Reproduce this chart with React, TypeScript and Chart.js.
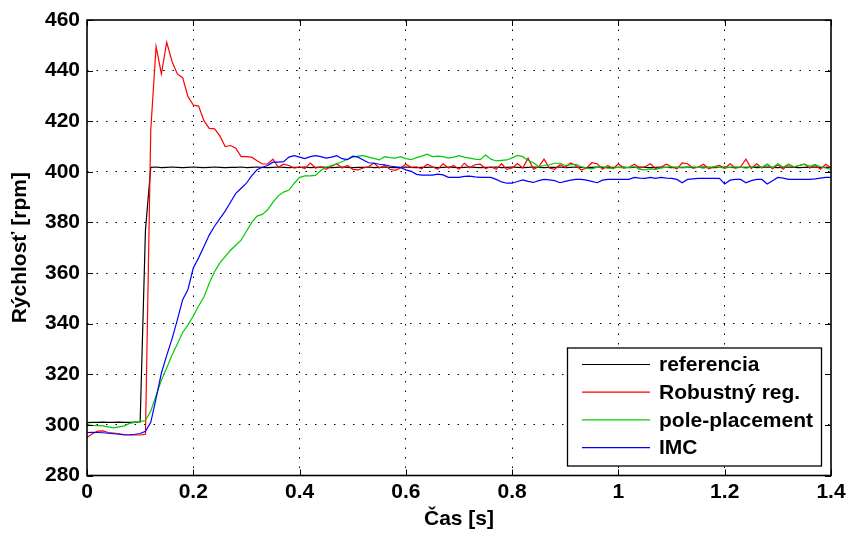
import React, { useEffect, useRef } from "react";
import { Chart, registerables } from "chart.js";

Chart.register(...registerables);

// sample times [s]
const time: number[] = Array.from({ length: 141 }, (_, i) => i / 100);

const xTicks = [0, 0.2, 0.4, 0.6, 0.8, 1, 1.2, 1.4];
const yTicks = [280, 300, 320, 340, 360, 380, 400, 420, 440, 460];

const seriesLabels = ["referencia", "Robustný reg.", "pole-placement", "IMC"];
const seriesColors = ["#000000", "#ff0000", "#00cc00", "#0000ff"];

const referencia = [
  300.9, 301.0, 301.0, 301.1, 301.0, 301.0, 301.1, 301.0, 301.0, 301.1, 301.2,
  377.0,
  401.8, 401.9, 401.7, 401.8, 401.9, 401.8, 401.7, 401.8, 401.9, 401.8,
  401.7, 401.8, 401.9, 401.8, 401.7, 401.8, 401.8, 401.9, 401.7, 401.8,
  401.9, 401.8, 401.7, 401.8, 401.9, 401.8, 401.7, 401.8, 401.8, 401.9,
  401.7, 401.8, 401.9, 401.8, 401.7, 401.8, 401.9, 401.8, 401.7, 401.8,
  401.8, 401.9, 401.7, 401.8, 401.9, 401.8, 401.7, 401.8, 401.9, 401.8,
  401.7, 401.8, 401.8, 401.9, 401.7, 401.8, 401.9, 401.8, 401.7, 401.8,
  401.9, 401.8, 401.7, 401.8, 401.8, 401.9, 401.7, 401.8, 401.9, 401.8,
  401.7, 401.8, 401.9, 401.8, 401.7, 401.8, 401.8, 401.9, 401.7, 401.8,
  401.9, 401.8, 401.7, 401.8, 401.9, 401.8, 401.7, 401.8, 401.8, 401.9,
  401.7, 401.8, 401.9, 401.8, 401.7, 401.8, 401.9, 401.8, 401.7, 401.8,
  401.8, 401.9, 401.7, 401.8, 401.9, 401.8, 401.7, 401.8, 401.9, 401.8,
  401.7, 401.8, 401.8, 401.9, 401.7, 401.8, 401.9, 401.8, 401.7, 401.8,
  401.9, 401.8, 401.7, 401.8, 401.8, 401.9, 401.7, 401.8, 401.9,
];

const robustny = [
  295.0, 296.5, 297.5, 297.6, 297.0, 296.8, 296.5, 296.2, 296.0, 296.0, 296.0, 296.3,
  416.5, 449.5, 438.7, 451.2, 443.6, 438.7, 437.2, 429.7, 426.4, 426.0,
  420.2, 417.2, 417.0, 414.2, 410.0, 410.4, 409.3, 406.0, 406.0, 405.8,
  404.4, 403.1, 403.1, 405.0, 401.8, 403.0,
  402.5, 401.5, 402.0, 401.3, 403.5, 401.5, 402.0, 401.0, 402.2, 403.2,
  401.5, 402.5, 401.0, 400.8, 401.5, 402.0, 403.5, 401.5, 402.5, 401.0,
  400.6, 401.5, 403.0, 401.8, 402.0, 401.2, 403.0, 402.0, 401.0, 403.2,
  401.5, 402.5, 401.0, 403.4, 401.6, 402.8, 403.0, 401.3, 402.0, 401.0,
  403.2, 401.0, 401.5, 403.3, 401.5, 405.4, 401.0, 402.0, 405.0, 401.5,
  401.0, 402.8, 401.8, 403.5, 402.5, 400.7, 401.5, 403.6, 403.2, 401.0,
  402.5, 401.2, 403.2, 401.5, 401.8, 403.0, 401.5, 402.0, 403.2, 401.3,
  401.8, 403.0, 402.0, 401.2, 403.5, 403.2, 401.5, 401.8, 403.0, 401.2,
  402.0, 402.5, 401.3, 403.2, 401.5, 402.0, 405.0, 401.3, 403.2, 401.5,
  403.0, 401.2, 402.8, 401.0, 403.0, 401.8, 402.5, 403.0, 401.5, 402.8,
  401.0, 403.0, 401.5,
];

const polePlacement = [
  300.0, 299.8, 299.7, 299.6, 299.2, 298.8, 299.2, 299.6, 300.6, 301.0, 301.3, 301.7,
  305.5, 311.5, 317.7, 322.5, 327.6, 332.0, 336.5, 339.5, 343.0, 347.0,
  350.5, 356.0, 360.5, 364.0, 366.5, 369.0, 371.0, 373.0, 376.5, 380.0,
  382.5, 383.2, 385.0, 388.0, 390.5, 392.0, 392.8, 395.5, 397.8, 398.4,
  398.4, 398.6,
  400.5, 401.8, 402.5, 403.2, 404.0, 405.0, 405.8, 406.2, 406.4, 405.8,
  405.3, 404.7, 406.0, 405.6, 405.4, 406.0, 405.2, 404.8, 405.6, 406.2,
  407.0, 406.0, 406.2, 406.0, 405.4, 405.8, 406.4, 405.8, 405.4, 405.0,
  404.8, 406.6, 405.0, 404.3, 404.5, 404.7, 405.5, 406.5, 406.0, 404.5,
  403.6, 402.0, 402.5, 402.8, 403.4, 403.4, 402.5, 402.8, 403.0, 402.0,
  401.5, 401.2, 401.8, 402.0, 401.5, 401.5, 401.8, 401.6, 401.8, 402.0,
  401.0, 400.8, 401.2, 401.0, 401.5, 401.8, 402.0, 401.8, 401.6, 401.8,
  402.0, 401.8, 401.5, 401.8, 402.0, 401.8, 401.5, 401.8, 402.0, 401.8,
  401.5, 401.8, 402.2, 401.8, 403.0, 401.6, 403.2, 401.8, 403.0, 402.0,
  402.5, 403.0, 402.2, 402.8, 402.0, 401.5, 401.0,
];

const imc = [
  297.0, 297.1, 297.0, 296.9, 296.7, 296.5, 296.3, 296.0, 296.1, 296.3, 296.6, 297.5, 301.0,
  310.5, 320.5, 327.5, 334.0, 341.5, 349.5, 353.5, 362.0, 366.0, 370.5,
  375.0, 378.5, 381.5, 384.5, 388.0, 391.5, 393.5, 395.5, 398.5, 400.8,
  401.8, 402.5, 403.8, 403.8, 404.0,
  405.8, 406.4, 405.8, 405.2, 406.0, 406.4, 406.0, 405.4, 405.8, 406.4,
  405.2, 404.8, 406.2, 405.8, 404.7, 403.6, 403.4, 403.0, 402.8, 402.3,
  402.0, 401.7, 400.8, 400.2, 399.0, 398.7, 398.7, 398.7, 399.1, 398.8,
  397.8, 397.8, 397.8, 398.2, 398.3, 398.0, 397.8, 397.8, 397.8, 397.0,
  396.0, 395.5, 395.5, 396.2, 396.8, 396.2, 395.8, 396.5, 397.0, 396.8,
  396.5, 395.7, 396.2, 396.7, 397.0, 397.0, 396.7, 396.2, 395.7, 396.7,
  397.0, 397.0, 397.0, 397.0, 397.0, 397.8, 397.5, 397.4, 397.8, 397.4,
  397.8, 397.5, 397.4, 397.0, 395.7, 397.0, 397.2, 397.4, 397.4, 397.4,
  397.4, 397.4, 395.2, 396.7, 397.0, 397.0, 395.7, 396.5, 397.0, 397.0,
  395.2, 396.5, 397.8, 397.5, 397.0, 397.0, 397.0, 397.0, 397.0, 397.2,
  397.5, 397.8, 397.8,
];

const allSeries = [referencia, robustny, polePlacement, imc];

const FONT = "'Liberation Sans', Arial, Helvetica, sans-serif";
const FS = 21;

const framePlugin = {
  id: "matlabFrame",
  afterDraw(chart: any) {
    const { ctx, chartArea, scales } = chart;
    const { left, right, top, bottom } = chartArea;
    ctx.save();
    ctx.strokeStyle = "#000";
    ctx.lineWidth = 1;
    const tl = 6;
    ctx.beginPath();
    scales.x.ticks.forEach((t: any) => {
      const px = Math.round(scales.x.getPixelForValue(t.value)) + 0.5;
      ctx.moveTo(px, bottom);
      ctx.lineTo(px, bottom - tl);
      ctx.moveTo(px, top);
      ctx.lineTo(px, top + tl);
    });
    scales.y.ticks.forEach((t: any) => {
      const py = Math.round(scales.y.getPixelForValue(t.value)) + 0.5;
      ctx.moveTo(left, py);
      ctx.lineTo(left + tl, py);
      ctx.moveTo(right, py);
      ctx.lineTo(right - tl, py);
    });
    ctx.stroke();
    ctx.lineWidth = 1.6;
    ctx.strokeRect(left, top, right - left, bottom - top);

    // legend inside plot area (bottom-right)
    const ds = chart.data.datasets;
    const bw = 254;
    const bh = 118;
    const bx = right - 10 - bw;
    const by = bottom - 10 - bh;
    ctx.fillStyle = "#fff";
    ctx.fillRect(bx, by, bw, bh);
    ctx.lineWidth = 1.3;
    ctx.strokeStyle = "#000";
    ctx.strokeRect(bx + 0.5, by + 0.5, bw, bh);
    ctx.font = `bold ${FS}px ${FONT}`;
    ctx.textBaseline = "middle";
    ctx.textAlign = "left";
    ds.forEach((d: any, i: number) => {
      const yc = by + 17 + i * 27.7;
      ctx.strokeStyle = d.borderColor;
      ctx.lineWidth = 1.2;
      ctx.beginPath();
      ctx.moveTo(bx + 15, yc);
      ctx.lineTo(bx + 83, yc);
      ctx.stroke();
      ctx.fillStyle = "#000";
      ctx.fillText(d.label, bx + 92, yc + 1);
    });
    ctx.restore();
  },
};

export default function App() {
  const canvasRef = useRef<HTMLCanvasElement | null>(null);

  useEffect(() => {
    if (!canvasRef.current) return;
    const datasets = allSeries.map((s, i) => ({
      label: seriesLabels[i],
      data: s.map((v, j) => ({ x: time[j], y: v })),
      borderColor: seriesColors[i],
      backgroundColor: seriesColors[i],
      borderWidth: 1.2,
      pointRadius: 0,
      tension: 0,
      fill: false,
      order: 3 - i,
    }));
    const chart = new Chart(canvasRef.current, {
      type: "line",
      data: { datasets },
      options: {
        animation: false,
        responsive: true,
        maintainAspectRatio: false,
        layout: { padding: { top: 20, right: 20, left: 0, bottom: 0 } },
        plugins: {
          legend: { display: false },
          tooltip: { enabled: false },
        },
        scales: {
          x: {
            type: "linear",
            min: 0,
            max: 1.4,
            afterBuildTicks: (scale: any) => {
              scale.ticks = xTicks.map((v) => ({ value: v }));
            },
            afterFit: (scale: any) => {
              scale.height = 60.5;
            },
            ticks: {
              color: "#000",
              font: { family: FONT, size: FS, weight: "bold" },
              padding: 4,
              maxRotation: 0,
              callback: (v: any) => String(Math.round(Number(v) * 10) / 10),
            },
            grid: {
              drawTicks: false,
              color: (c: any) =>
                c.tick && (c.tick.value === 0 || c.tick.value === 1.4) ? "rgba(0,0,0,0)" : "#000",
              lineWidth: 1,
            },
            border: { display: false, dash: [1.5, 8] },
            title: {
              display: true,
              text: "Čas [s]",
              color: "#000",
              font: { family: FONT, size: FS, weight: "bold" },
              padding: 4,
            },
          },
          y: {
            min: 280,
            max: 460,
            afterBuildTicks: (scale: any) => {
              scale.ticks = yTicks.map((v) => ({ value: v }));
            },
            afterFit: (scale: any) => {
              scale.width = 87;
            },
            ticks: {
              color: "#000",
              font: { family: FONT, size: FS, weight: "bold" },
              padding: 7,
            },
            grid: {
              drawTicks: false,
              color: (c: any) =>
                c.tick && (c.tick.value === 280 || c.tick.value === 460) ? "rgba(0,0,0,0)" : "#000",
              lineWidth: 1,
            },
            border: { display: false, dash: [1.5, 8] },
            title: {
              display: true,
              text: "Rýchlosť [rpm]",
              color: "#000",
              font: { family: FONT, size: FS, weight: "bold" },
              padding: 8,
            },
          },
        },
      },
      plugins: [framePlugin],
    });
    return () => chart.destroy();
  }, []);

  return (
    <div style={{ position: "absolute", left: 0, top: 0, width: 851, height: 536, background: "#fff" }}>
      <canvas ref={canvasRef} />
    </div>
  );
}
